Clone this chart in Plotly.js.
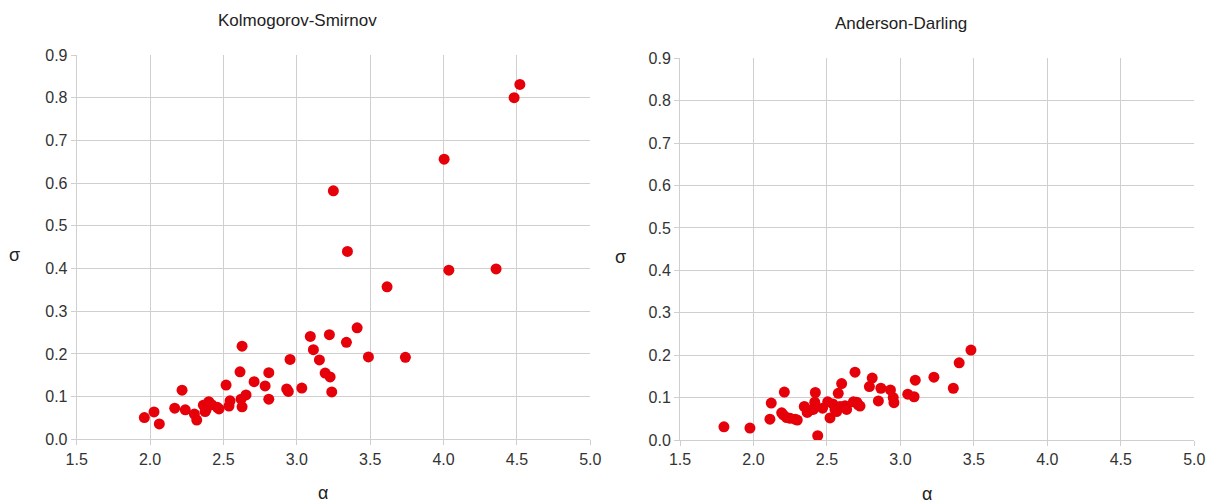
<!DOCTYPE html>
<html>
<head>
<meta charset="utf-8">
<script src="https://cdn.plot.ly/plotly-3.0.1.min.js"></script>
<style>html,body{margin:0;padding:0;background:#fff;}#chart{width:1208px;height:503px;}</style>
</head>
<body>
<div id="chart"></div>
<script>
// Kolmogorov-Smirnov fit: alpha, sigma
const ksAlpha = [1.961,2.027,2.063,2.168,2.218,2.240,2.302,2.318,2.363,2.375,2.400,2.381,2.420,2.458,2.470,2.518,2.538,2.545,2.613,2.627,2.620,2.627,2.654,2.709,2.784,2.809,2.809,2.954,2.931,2.942,3.034,3.092,3.113,3.154,3.193,3.227,3.238,3.222,3.338,3.411,3.488,3.740,3.249,3.345,3.615,4.004,4.036,4.358,4.481,4.520];
const ksSigma = [0.051,0.064,0.036,0.073,0.115,0.069,0.059,0.045,0.080,0.065,0.088,0.069,0.081,0.075,0.071,0.127,0.078,0.090,0.158,0.218,0.094,0.076,0.104,0.135,0.125,0.156,0.094,0.187,0.118,0.112,0.120,0.241,0.210,0.186,0.155,0.146,0.111,0.245,0.227,0.261,0.193,0.192,0.582,0.440,0.357,0.656,0.396,0.399,0.800,0.831];
// Anderson-Darling fit: alpha, sigma
const adAlpha = [1.799,1.976,2.112,2.121,2.192,2.203,2.210,2.226,2.249,2.283,2.298,2.346,2.366,2.407,2.417,2.421,2.437,2.505,2.521,2.555,2.566,2.577,2.600,2.589,2.623,2.634,2.691,2.680,2.703,2.713,2.725,2.789,2.808,2.850,2.867,2.932,2.951,2.956,3.050,3.093,3.101,3.228,3.360,3.400,3.480,2.470,2.540,2.380];
const adSigma = [0.031,0.028,0.049,0.087,0.064,0.059,0.113,0.053,0.051,0.049,0.047,0.079,0.065,0.072,0.089,0.112,0.010,0.090,0.052,0.072,0.067,0.110,0.133,0.079,0.081,0.072,0.160,0.090,0.089,0.083,0.080,0.126,0.146,0.092,0.122,0.118,0.100,0.088,0.108,0.102,0.141,0.148,0.122,0.182,0.212,0.075,0.085,0.070];

const titles = ["Kolmogorov-Smirnov", "Anderson-Darling"];
const xTitle = "α";
const yTitle = "σ";

const W = 1208, H = 503;
const red = "rgb(230,0,10)";
const grid = "#cfcfcf";
const font = "Liberation Sans, Arial, sans-serif";

const traces = [
  {x: ksAlpha, y: ksSigma, type: "scatter", mode: "markers", xaxis: "x", yaxis: "y",
   marker: {color: red, size: 11}, hoverinfo: "skip"},
  {x: adAlpha, y: adSigma, type: "scatter", mode: "markers", xaxis: "x2", yaxis: "y2",
   marker: {color: red, size: 11}, hoverinfo: "skip"}
];

function xa(d){ return {domain: d, range: [1.5, 5.0], tick0: 1.5, dtick: 0.5, tickformat: ".1f",
  showgrid: true, gridcolor: grid, gridwidth: 1, showline: true, linecolor: grid, linewidth: 1,
  ticks: "outside", ticklen: 5, tickcolor: grid, zeroline: false, automargin: false,
  tickfont: {family: font, size: 16, color: "#333"}, fixedrange: true}; }
function ya(d, anchor){ return {domain: d, range: [0, 0.9], tick0: 0, dtick: 0.1, tickformat: ".1f",
  showgrid: true, gridcolor: grid, gridwidth: 1, showline: true, linecolor: grid, linewidth: 1,
  ticks: "outside", ticklen: 5, tickcolor: grid, zeroline: false, automargin: false, anchor: anchor,
  tickfont: {family: font, size: 16, color: "#333"}, fixedrange: true}; }

const x1 = xa([76.7/W, 590.3/W]);
const x2 = xa([680/W, 1194.3/W]); x2.anchor = "y2";
x1.anchor = "y";
const y1 = ya([1-439.3/H, 1-55/H], "x");
const y2 = ya([1-440/H, 1-58.3/H], "x2");

function ann(text, px, py, size){
  return {text: text, xref: "paper", yref: "paper", x: px/W, y: 1-py/H, xanchor: "center", yanchor: "middle",
          showarrow: false, font: {family: font, size: size, color: "#222"}};
}

const layout = {
  width: W, height: H, margin: {l: 0, r: 0, t: 0, b: 0},
  paper_bgcolor: "#fff", plot_bgcolor: "#fff", showlegend: false,
  xaxis: x1, yaxis: y1, xaxis2: x2, yaxis2: y2,
  annotations: [
    ann(titles[0], 297, 21, 17),
    ann(titles[1], 901, 24, 17),
    ann(yTitle, 15, 255, 18),
    ann(yTitle, 620, 257, 18),
    ann(xTitle, 323, 493, 18),
    ann(xTitle, 927, 494, 18)
  ]
};

Plotly.newPlot("chart", traces, layout, {displayModeBar: false, staticPlot: true});
</script>
</body>
</html>
